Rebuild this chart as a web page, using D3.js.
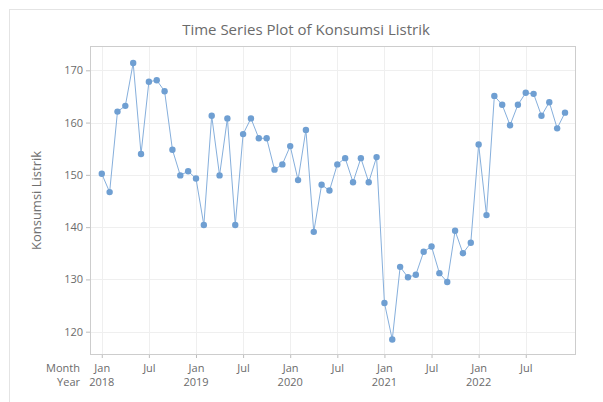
<!DOCTYPE html>
<html>
<head>
<meta charset="utf-8">
<script src="https://cdn.jsdelivr.net/npm/d3@7"></script>
<style>
body{margin:0;background:#fff;}
text{font-family:"Segoe UI","Open Sans","Noto Sans",sans-serif;}
</style>
</head>
<body>
<svg id="c" width="603" height="402"></svg>
<script>
const title = "Time Series Plot of Konsumsi Listrik";
const yTitle = "Konsumsi Listrik";
const startYear = 2018;
const monthNames = ["Jan","Feb","Mar","Apr","May","Jun","Jul","Aug","Sep","Oct","Nov","Dec"];
const values = [
  150.2,146.7,162.1,163.2,171.4,154.0,167.8,168.1,166.0,154.8,149.9,150.7,
  149.3,140.4,161.3,149.9,160.8,140.4,157.8,160.8,157.0,157.0,151.0,152.0,
  155.5,149.0,158.6,139.1,148.1,147.0,152.0,153.2,148.6,153.2,148.6,153.4,
  125.5,118.5,132.4,130.4,130.9,135.3,136.3,131.2,129.5,139.3,135.0,137.0,
  155.8,142.3,165.1,163.4,159.5,163.4,165.7,165.5,161.3,163.9,158.9,161.9
];
const yTicks = [120,130,140,150,160,170];
const xTickIdx = [0,6,12,18,24,30,36,42,48,54];

const svg = d3.select("#c");
const L=90, R=576, T=46, B=355;
const x = d3.scaleLinear().domain([-1.5,60.4]).range([L,R]);
const y = d3.scaleLinear().domain([115.54,174.65]).range([B,T]);

// outer box
svg.append("rect").attr("x",9.5).attr("y",9.5).attr("width",700).attr("height",500)
  .attr("fill","none").attr("stroke","#e4e4e4");

// title
svg.append("text").attr("x",306).attr("y",35).attr("text-anchor","middle")
  .attr("font-size",15).attr("fill","#6b6b6b").text(title);

// gridlines
const g = svg.append("g");
g.selectAll(".hg").data(yTicks).join("line")
  .attr("x1",L).attr("x2",R).attr("y1",d=>Math.round(y(d))+0.5).attr("y2",d=>Math.round(y(d))+0.5)
  .attr("stroke","#efefef");
g.selectAll(".vg").data(xTickIdx).join("line")
  .attr("y1",T).attr("y2",B).attr("x1",d=>Math.round(x(d))+0.5).attr("x2",d=>Math.round(x(d))+0.5)
  .attr("stroke","#efefef");

// frame
svg.append("rect").attr("x",L+0.5).attr("y",T+0.5).attr("width",R-L-1).attr("height",B-T-1)
  .attr("fill","none").attr("stroke","#cdcdcd");

// y axis
const ya = svg.append("g").attr("transform",`translate(${L},0)`)
  .call(d3.axisLeft(y).tickValues(yTicks).tickSize(4).tickPadding(3));
ya.select(".domain").remove();
ya.selectAll("line").attr("stroke","#bdbdbd");
ya.selectAll("text").attr("font-size",11).attr("fill","#6b6b6b").style("font-family",'"Segoe UI","Open Sans",sans-serif');

// x axis
const xa = svg.append("g").attr("transform",`translate(0,${B})`)
  .call(d3.axisBottom(x).tickValues(xTickIdx).tickSize(3).tickPadding(6)
    .tickFormat(i=>monthNames[i%12]));
xa.select(".domain").remove();
xa.selectAll("line").attr("stroke","#bdbdbd");
xa.selectAll("text").attr("font-size",11).attr("fill","#6b6b6b").style("font-family",'"Segoe UI","Open Sans",sans-serif');

// year labels
svg.append("g").selectAll("text").data(xTickIdx.filter(i=>i%12===0)).join("text")
  .attr("x",d=>x(d)).attr("y",386).attr("text-anchor","middle")
  .attr("font-size",11).attr("fill","#6b6b6b").text(d=>startYear+d/12);

svg.append("text").attr("x",80).attr("y",372).attr("text-anchor","end")
  .attr("font-size",11).attr("fill","#6b6b6b").text("Month");
svg.append("text").attr("x",80).attr("y",386).attr("text-anchor","end")
  .attr("font-size",11).attr("fill","#6b6b6b").text("Year");

// y title
svg.append("text").attr("transform",`translate(41,${(T+B)/2}) rotate(-90)`)
  .attr("text-anchor","middle").attr("font-size",13).attr("fill","#707070").text(yTitle);

// line
const line = d3.line().x((d,i)=>x(i)).y(d=>y(d));
svg.append("path").datum(values).attr("d",line).attr("fill","none")
  .attr("stroke","#86afdc").attr("stroke-width",1);
svg.append("g").selectAll("circle").data(values).join("circle")
  .attr("cx",(d,i)=>x(i)).attr("cy",d=>y(d)).attr("r",3.2).attr("fill","#6f9fd2");
</script>
</body>
</html>
